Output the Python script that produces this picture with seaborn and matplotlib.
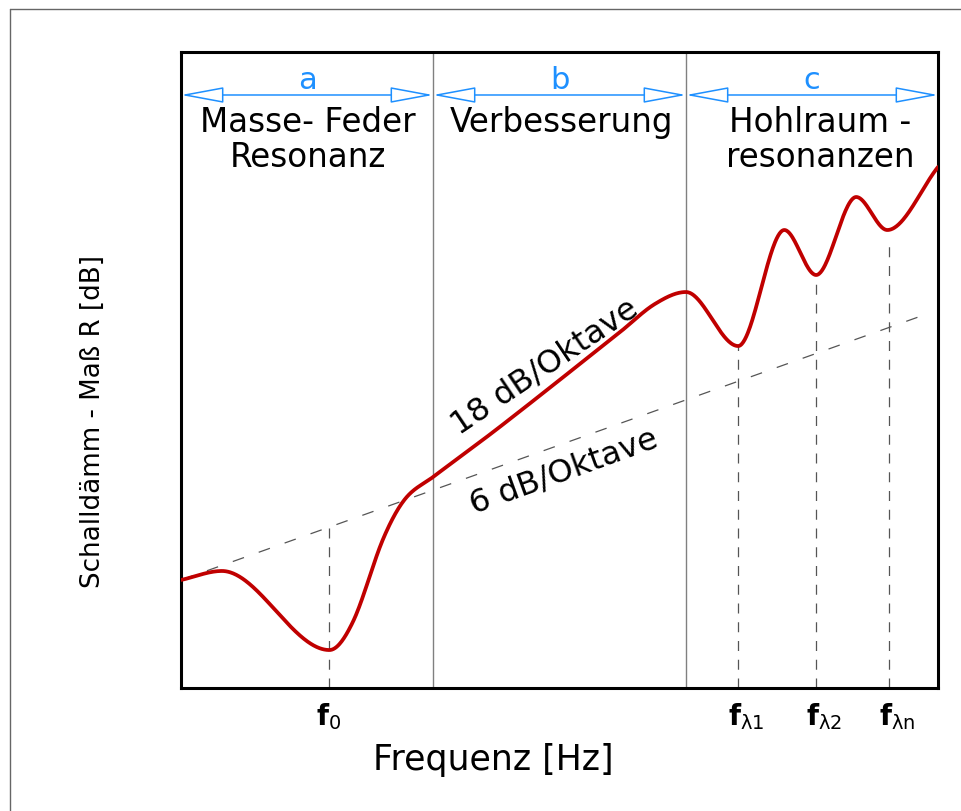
import numpy as np
import pandas as pd
import matplotlib
matplotlib.use("Agg")
import matplotlib.pyplot as plt
from matplotlib.lines import Line2D
from matplotlib.transforms import ScaledTranslation
import seaborn as sns

# Sound reduction index R over frequency (octaves), schematic double wall
curve_x = [0.00, 0.54, 1.96, 2.27, 2.67, 2.96, 3.33, 4.21,
           5.80, 6.26, 6.67, 7.36, 7.97, 8.39, 8.92, 9.33, 10.00]
curve_y = [16.98, 18.40, 5.97, 10.38, 23.43, 29.72, 33.18, 41.04,
           55.97, 60.38, 62.26, 53.77, 72.01, 64.94, 77.20, 72.01, 81.92]

# Mass law reference line (6 dB per octave)
mass_x = [0.00, 9.74]
mass_y = [16.98, 58.33]

# Characteristic frequencies: position, label, top of the guide line
freq_pos = [1.955, 7.358, 8.388, 9.353]
freq_labels = [r"$\mathbf{f}_{\mathrm{0}}$", r"$\mathbf{f}_{\mathrm{λ1}}$",
               r"$\mathbf{f}_{\mathrm{λ2}}$", r"$\mathbf{f}_{\mathrm{λn}}$"]
freq_top = [25.28, 53.77, 64.0, 69.8]

# Regions a, b, c
region_edges = [0.0, 3.329, 6.671, 10.0]
region_letters = ["a", "b", "c"]
region_line1 = ["Masse- Feder", "Verbesserung", "Hohlraum -"]
region_line2 = ["Resonanz", "", "resonanzen"]
region_cx = [1.678, 5.02, 8.44]

slope_labels = ["18 dB/Oktave", "6 dB/Oktave"]


def smooth_curve(x, y, xn):
    """Cubic Hermite curve through the points, flat at local extrema."""
    x = np.asarray(x, float)
    y = np.asarray(y, float)
    h = np.diff(x)
    m = np.zeros_like(y)
    for k in range(1, len(x) - 1):
        if (y[k] - y[k - 1]) * (y[k + 1] - y[k]) > 0:
            m[k] = (y[k + 1] - y[k - 1]) / (x[k + 1] - x[k - 1])
    m[0] = (y[1] - y[0]) / h[0]
    m[-1] = (y[-1] - y[-2]) / h[-1]
    idx = np.clip(np.searchsorted(x, xn) - 1, 0, len(h) - 1)
    t = (xn - x[idx]) / h[idx]
    h00 = 2 * t**3 - 3 * t**2 + 1
    h10 = t**3 - 2 * t**2 + t
    h01 = -2 * t**3 + 3 * t**2
    h11 = t**3 - t**2
    return (h00 * y[idx] + h10 * h[idx] * m[idx]
            + h01 * y[idx + 1] + h11 * h[idx] * m[idx + 1])


sns.set_theme(style="white")
plt.rcParams["font.family"] = ["DejaVu Sans"]

fig = plt.figure(figsize=(9.62, 8.12), dpi=100)
ax = fig.add_axes([181 / 962, 1 - 689 / 812, 757 / 962, 636 / 812])

blue = "#1E90FF"
red = "#C00000"
grey = "#555555"

# Region separators
for xe in region_edges[1:-1]:
    ax.axvline(xe, color="#808080", lw=1.0, zorder=1)

# Mass law line
sns.lineplot(x=mass_x, y=mass_y, ax=ax, color=grey, lw=0.9, zorder=2)
ax.lines[-1].set_dashes((9.5, 12.5))

# Guide lines at the characteristic frequencies
for xp, top in zip(freq_pos, freq_top):
    ax.plot([xp, xp], [0, top], color=grey, lw=0.9, dashes=(8, 7), zorder=2)

# Smooth R curve
xs = np.linspace(curve_x[0], curve_x[-1], 1000)
df = pd.DataFrame({"f": xs, "R": smooth_curve(curve_x, curve_y, xs)})
sns.lineplot(data=df, x="f", y="R", ax=ax, color=red, lw=2.7, zorder=4)

# Region arrows and labels
for i, letter in enumerate(region_letters):
    x0, x1 = region_edges[i], region_edges[i + 1]
    ax.annotate("", xy=(x1, 93.24), xytext=(x0, 93.24), annotation_clip=False,
                arrowprops=dict(arrowstyle="<|-|>,head_length=2.7,head_width=0.5",
                                mutation_scale=10, fc="white", ec=blue, lw=1.1,
                                shrinkA=0, shrinkB=0), zorder=5)
    ax.text((x0 + x1) / 2, 95.6, letter, color=blue, fontsize=22,
            ha="center", va="center")
    ax.text(region_cx[i], 89.0, region_line1[i], fontsize=23.5,
            ha="center", va="center", color="black")
    if region_line2[i]:
        ax.text(region_cx[i], 83.5, region_line2[i], fontsize=23.5,
                ha="center", va="center", color="black")

ax.text(4.81, 50.6, slope_labels[0], fontsize=23, rotation=34,
        rotation_mode="anchor", ha="center", va="center", color="black")
ax.text(5.06, 34.10, slope_labels[1], fontsize=23, rotation=20,
        rotation_mode="anchor", ha="center", va="center", color="black")

ax.set_xlim(0, 10)
ax.set_ylim(0, 100)
ax.set_xticks(freq_pos)
ax.set_xticklabels(freq_labels, fontsize=20, color="black")
ax.set_yticks([])
ax.tick_params(axis="x", length=0, pad=9)
for lab in ax.get_xticklabels()[1:]:
    lab.set_transform(lab.get_transform()
                      + ScaledTranslation(8 / 100, 0, fig.dpi_scale_trans))

ax.set_xlabel("Frequenz [Hz]", fontsize=25, color="black")
ax.xaxis.set_label_coords(0.412, -0.085)
ax.set_ylabel("Schalldämm - Maß R [dB]", fontsize=18.8, color="black")
ax.yaxis.set_label_coords(-0.099, 0.42)

for sp in ax.spines.values():
    sp.set_visible(True)
    sp.set_color("black")
    sp.set_linewidth(2.2)

# Outer page frame
fig.add_artist(Line2D([10 / 962, 1.0], [1 - 10 / 812, 1 - 10 / 812],
                      transform=fig.transFigure, color="#666666", lw=1.0))
fig.add_artist(Line2D([10 / 962, 10 / 962], [0.0, 1 - 10 / 812],
                      transform=fig.transFigure, color="#666666", lw=1.0))

fig.savefig("out.png", dpi=100)
